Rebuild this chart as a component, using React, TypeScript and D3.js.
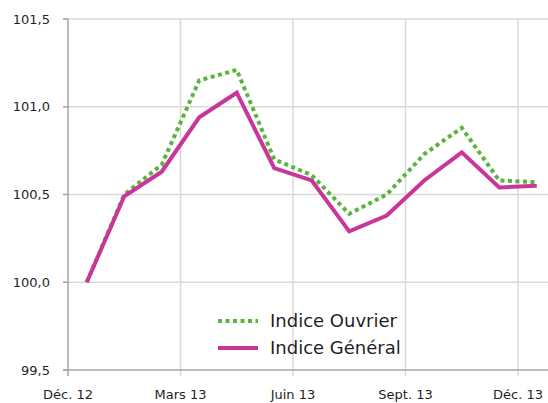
import * as d3 from 'd3';

const months = ['Déc. 12', 'Janv. 13', 'Févr. 13', 'Mars 13', 'Avr. 13', 'Mai 13', 'Juin 13',
  'Juil. 13', 'Août 13', 'Sept. 13', 'Oct. 13', 'Nov. 13', 'Déc. 13'];
const indiceOuvrier = [100.0, 100.5, 100.67, 101.15, 101.21, 100.7, 100.61, 100.39, 100.5, 100.73, 100.88, 100.58, 100.57];
const indiceGeneral = [100.0, 100.49, 100.63, 100.94, 101.08, 100.65, 100.58, 100.29, 100.38, 100.58, 100.74, 100.54, 100.55];
const yTicks = [99.5, 100.0, 100.5, 101.0, 101.5];
const xLabelIdx = [0, 3, 6, 9, 12];

const W = 548;
const H = 403;
const left = 68;
const top = 19;
const bottom = 370;

export default function App() {
  const x = d3.scalePoint<string>().domain(months).range([left, left + 37.5 * 13]).padding(0.5);
  const step = x.step();
  const y = d3.scaleLinear().domain([99.5, 101.5]).range([bottom, top]);
  const fmt = (v: number) => v.toFixed(1).replace('.', ',');
  const line = d3.line<number>().x((_, i) => x(months[i])!).y(d => y(d));
  const font = '"DejaVu Sans", Verdana, sans-serif';

  return (
    <svg width={W} height={H} style={{ position: 'absolute', left: 0, top: 0, fontFamily: font }}>
      {/* horizontal grid */}
      {yTicks.slice(1).map(t => (
        <line key={t} x1={left - 5} x2={W} y1={y(t)} y2={y(t)} stroke="#d9d9d9" strokeWidth={1.5} />
      ))}
      {/* vertical grid */}
      {xLabelIdx.slice(1).map(i => {
        const bx = x(months[i])! - step / 2;
        return <line key={i} x1={bx} x2={bx} y1={top} y2={bottom + 6} stroke="#d9d9d9" strokeWidth={1.5} />;
      })}
      {/* axes */}
      <line x1={left} x2={left} y1={top} y2={bottom + 6} stroke="#a6a6a6" strokeWidth={1.5} />
      <line x1={left - 5} x2={W} y1={bottom} y2={bottom} stroke="#a6a6a6" strokeWidth={1.5} />
      {yTicks.map(t => (
        <g key={t}>
          <line x1={left - 5} x2={left} y1={y(t)} y2={y(t)} stroke="#a6a6a6" strokeWidth={1.5} />
          <text x={50} y={y(t)} dy="0.35em" textAnchor="end" fontSize={13} fill="#1f1f1f">{fmt(t)}</text>
        </g>
      ))}
      {xLabelIdx.map(i => (
        <text key={i} x={x(months[i])! - step / 2} y={399} textAnchor="middle" fontSize={13} fill="#1f1f1f">
          {months[i]}
        </text>
      ))}
      {/* series */}
      <path d={line(indiceOuvrier)!} fill="none" stroke="#5ab43c" strokeWidth={4} strokeDasharray="4,3.5" />
      <path d={line(indiceGeneral)!} fill="none" stroke="#c8369a" strokeWidth={4} strokeLinejoin="miter" />
      {/* legend */}
      <g fontSize={18} fill="#1f1f1f">
        <line x1={218} x2={258} y1={321} y2={321} stroke="#5ab43c" strokeWidth={4} strokeDasharray="4,3.5" />
        <text x={270} y={321} dy="0.35em">Indice Ouvrier</text>
        <line x1={218} x2={258} y1={348} y2={348} stroke="#c8369a" strokeWidth={4} />
        <text x={270} y={348} dy="0.35em">Indice Général</text>
      </g>
    </svg>
  );
}
